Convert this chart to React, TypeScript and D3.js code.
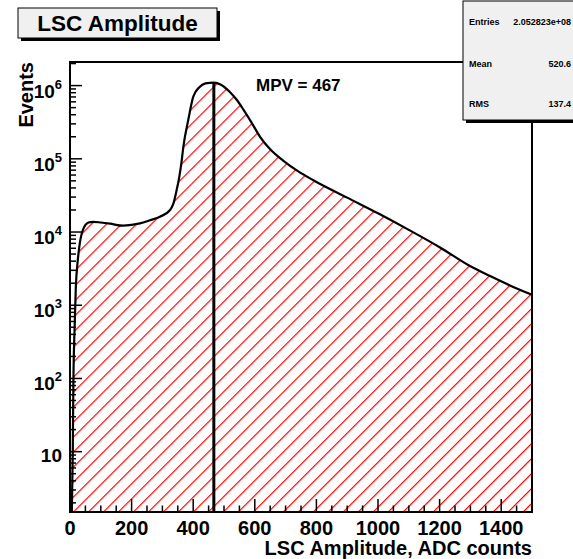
import React from "react";
import * as d3 from "d3";

const amplitude = [6, 9, 11, 15, 19, 25, 32, 45, 60, 75, 100, 130, 172, 200, 227, 260, 292, 325, 335, 346, 355, 362, 368, 384, 400, 420, 440, 467, 490, 519, 540, 563, 590, 617, 650, 693, 740, 790, 900, 1000, 1100, 1200, 1300, 1364, 1430, 1498];
const events = [1.5, 10, 90, 500, 1800, 4000, 7100, 11500, 13500, 13800, 13500, 13000, 12200, 12500, 13100, 14500, 16200, 20000, 24000, 37000, 57000, 90000, 146000, 340000, 700000, 950000, 1070000, 1100000, 1030000, 820000, 650000, 470000, 310000, 200000, 135000, 94000, 68000, 51000, 29500, 18000, 10700, 6200, 3400, 2500, 1850, 1400];
const xTicks = [0, 200, 400, 600, 800, 1000, 1200, 1400];
const yDecades = [1, 2, 3, 4, 5, 6];
const mpv = 467;
const statLabels = ["Entries", "Mean", "RMS"];
const statValues = ["2.052823e+08", "520.6", "137.4"];

const W = 573, H = 559;
const L = 70, R = 532, T = 62, B = 512;
const FONT = "Liberation Sans, Arial, Helvetica, sans-serif";

export default function App() {
  const x = d3.scaleLinear().domain([0, 1500]).range([L, R]);
  const y = d3.scaleLog().domain([1.5, 2.1e6]).range([B, T]);
  const pts = amplitude.map((a, i) => [a, events[i]] as [number, number]);
  const line = d3.line<[number, number]>().x(d => x(d[0])).y(d => y(d[1])).curve(d3.curveMonotoneX);
  const area = d3.area<[number, number]>().x(d => x(d[0])).y0(B).y1(d => y(d[1])).curve(d3.curveMonotoneX);

  const minorX = d3.range(0, 1501, 50).filter(v => v % 200 !== 0);
  const minorY: number[] = [];
  for (let e = 0; e <= 6; e++) for (let m = 2; m <= 9; m++) {
    const v = m * Math.pow(10, e);
    if (v >= 1.5 && v <= 2.1e6) minorY.push(v);
  }
  const peakY = y(events[amplitude.indexOf(mpv)]);
  const rowY = [25, 67, 107];

  return (
    <svg width={W} height={H} style={{ position: "absolute", left: 0, top: 0, background: "#fff" }} fontFamily={FONT}>
      <defs>
        <pattern id="hatch" patternUnits="userSpaceOnUse" width={10.6} height={10} patternTransform="rotate(45)">
          <line x1={0.6} y1={0} x2={0.6} y2={10} stroke="#ff0000" strokeWidth={1.2} />
        </pattern>
        <clipPath id="frameClip"><rect x={L} y={T} width={R - L} height={B - T} /></clipPath>
      </defs>
      <rect x={0} y={0} width={W} height={H} fill="#fff" />
      <g clipPath="url(#frameClip)">
        <path d={area(pts) || ""} fill="url(#hatch)" />
        <path d={line(pts) || ""} fill="none" stroke="#000" strokeWidth={2.2} />
        <line x1={x(mpv)} x2={x(mpv)} y1={B} y2={peakY} stroke="#000" strokeWidth={3} />
      </g>
      <rect x={L} y={T} width={R - L} height={B - T} fill="none" stroke="#000" strokeWidth={2} />
      {xTicks.map(v => (
        <g key={"xt" + v}>
          <line x1={x(v)} x2={x(v)} y1={B} y2={B - 13} stroke="#000" strokeWidth={1.5} />
          <text x={x(v)} y={535} textAnchor="middle" fontSize={20} fontWeight="bold">{v}</text>
        </g>
      ))}
      {minorX.map(v => (
        <line key={"xm" + v} x1={x(v)} x2={x(v)} y1={B} y2={B - 6.5} stroke="#000" strokeWidth={1.5} />
      ))}
      {yDecades.map(e => {
        const v = Math.pow(10, e);
        return (
          <g key={"yt" + e}>
            <line x1={L} x2={L + 12} y1={y(v)} y2={y(v)} stroke="#000" strokeWidth={1.5} />
            {e === 1 ? (
              <text x={62} y={y(v) + 10} textAnchor="end" fontSize={19} fontWeight="bold">10</text>
            ) : (
              <text x={62} y={y(v) + 12} textAnchor="end" fontSize={19} fontWeight="bold">
                10<tspan fontSize={13} dy={-9}>{e}</tspan>
              </text>
            )}
          </g>
        );
      })}
      {minorY.map(v => (
        <line key={"ym" + v} x1={L} x2={L + 6} y1={y(v)} y2={y(v)} stroke="#000" strokeWidth={1.5} />
      ))}
      <text x={R} y={555} textAnchor="end" fontSize={20} fontWeight="bold">LSC Amplitude, ADC counts</text>
      <text transform={`translate(33,${T}) rotate(-90)`} textAnchor="end" fontSize={20} fontWeight="bold">Events</text>
      <text x={256} y={91} fontSize={17} fontWeight="bold">{`MPV = ${mpv}`}</text>
      <rect x={21} y={11} width={199} height={30} fill="#000" />
      <rect x={18} y={8} width={199} height={30} fill="#f0f0f0" stroke="#000" strokeWidth={1} />
      <text x={117.5} y={31} textAnchor="middle" fontSize={22.5} fontWeight="bold">LSC Amplitude</text>
      <rect x={466} y={4} width={110} height={119} fill="#000" />
      <rect x={463} y={1} width={112} height={119} fill="#f0f0f0" stroke="#000" strokeWidth={1} />
      {statLabels.map((s, i) => (
        <g key={s}>
          <text x={469} y={rowY[i]} fontSize={9} fontWeight="bold">{s}</text>
          <text x={571} y={rowY[i]} textAnchor="end" fontSize={9} fontWeight="bold">{statValues[i]}</text>
        </g>
      ))}
    </svg>
  );
}
